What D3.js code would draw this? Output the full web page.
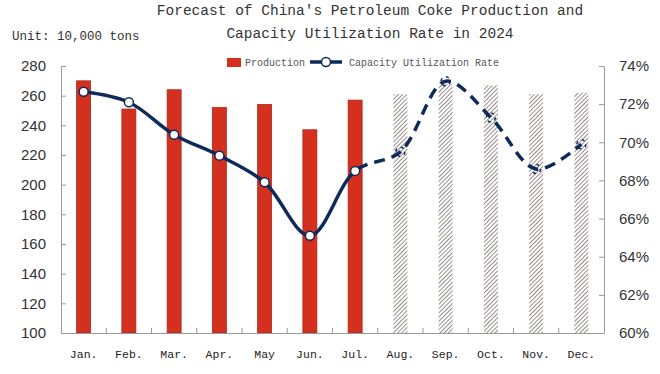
<!DOCTYPE html>
<html>
<head>
<meta charset="utf-8">
<script src="https://cdn.jsdelivr.net/npm/d3@7"></script>
<style>
  body { margin: 0; background: #fff; }
  svg { display: block; }
</style>
</head>
<body>
<svg width="660" height="374"></svg>
<script>
var months = ["Jan.", "Feb.", "Mar.", "Apr.", "May", "Jun.", "Jul.", "Aug.", "Sep.", "Oct.", "Nov.", "Dec."];
var production = [270, 251, 264, 252, 254, 237, 257, 261, 268, 267, 261, 262];
var utilization = [72.65, 72.1, 70.4, 69.3, 67.9, 65.1, 68.5, 69.5, 73.2, 71.3, 68.6, 69.9];
var actualCount = 7; // Jan-Jul actual, Aug-Dec forecast
var leftTicks = [100, 120, 140, 160, 180, 200, 220, 240, 260, 280];
var rightTicks = [60, 62, 64, 66, 68, 70, 72, 74];

var svg = d3.select("svg");
var plotLeft = 61, plotRight = 604, plotTop = 66, plotBottom = 333;

var x = d3.scaleBand().domain(months).range([plotLeft, plotRight]).padding(0);
var y = d3.scaleLinear().domain([100, 280]).range([plotBottom, plotTop]);
var y2 = d3.scaleLinear().domain([60, 74]).range([plotBottom, plotTop]);

function cx(i) { return x(months[i]) + x.bandwidth() / 2; }

var defs = svg.append("defs");
var pat = defs.append("pattern")
    .attr("id", "hatch")
    .attr("patternUnits", "userSpaceOnUse")
    .attr("width", 3).attr("height", 3)
    .attr("patternTransform", "rotate(45)");
pat.append("rect").attr("width", 3).attr("height", 3).attr("fill", "#fff");
pat.append("line")
    .attr("x1", 0).attr("y1", 0).attr("x2", 0).attr("y2", 3)
    .attr("stroke", "#5e4f48").attr("stroke-width", 1.3);

var splitX = cx(actualCount - 1);
defs.append("clipPath").attr("id", "clipSolid")
  .append("rect")
    .attr("x", 0).attr("y", 0)
    .attr("width", splitX)
    .attr("height", 374);
defs.append("clipPath").attr("id", "clipDash")
  .append("rect")
    .attr("x", splitX).attr("y", 0)
    .attr("width", 660).attr("height", 374);

// titles
svg.append("text")
    .attr("x", 370).attr("y", 15)
    .attr("text-anchor", "middle")
    .style("font", "14.5px 'Liberation Mono', monospace")
    .attr("fill", "#333")
    .text("Forecast of China's Petroleum Coke Production and");
svg.append("text")
    .attr("x", 370).attr("y", 38)
    .attr("text-anchor", "middle")
    .style("font", "14.5px 'Liberation Mono', monospace")
    .attr("fill", "#333")
    .text("Capacity Utilization Rate in 2024");
svg.append("text")
    .attr("x", 12).attr("y", 40)
    .style("font", "12.5px 'Liberation Mono', monospace")
    .attr("fill", "#333")
    .text("Unit: 10,000 tons");

// bars
var barW = 14;
svg.selectAll(".bar")
  .data(production)
  .enter().append("rect")
    .attr("class", "bar")
    .attr("x", function(d, i) { return cx(i) - barW / 2; })
    .attr("y", function(d) { return y(d); })
    .attr("width", barW)
    .attr("height", function(d) { return plotBottom - y(d); })
    .attr("fill", function(d, i) { return i < actualCount ? "#d4301f" : "url(#hatch)"; })
    .attr("stroke", function(d, i) { return i < actualCount ? "#b02818" : "none"; })
    .attr("stroke-width", 0.8);

// axes
var gLeft = svg.append("g")
    .attr("transform", "translate(" + plotLeft + ",0)")
    .call(d3.axisLeft(y).tickValues(leftTicks).tickSize(-5).tickSizeOuter(0).tickPadding(15));
var gRight = svg.append("g")
    .attr("transform", "translate(" + plotRight + ",0)")
    .call(d3.axisRight(y2).tickValues(rightTicks).tickSize(-5).tickSizeOuter(0).tickPadding(15)
      .tickFormat(function(d) { return d + "%"; }));
[gLeft, gRight].forEach(function(g) {
  g.select(".domain").attr("stroke", "#999");
  g.selectAll(".tick line").attr("stroke", "#999");
  g.selectAll(".tick text")
    .style("font", "15px 'Liberation Sans', Arial, sans-serif")
    .attr("fill", "#333");
});

var gBottom = svg.append("g")
    .attr("transform", "translate(0," + plotBottom + ")")
    .call(d3.axisBottom(x).tickSize(0).tickPadding(17));
gBottom.select(".domain").attr("stroke", "#999");
gBottom.selectAll(".tick text")
    .style("font", "11.5px 'Liberation Mono', monospace")
    .attr("fill", "#222");
// tick marks between categories
gBottom.selectAll(".sep")
  .data(months.slice(1))
  .enter().append("line")
    .attr("x1", function(d) { return x(d); })
    .attr("x2", function(d) { return x(d); })
    .attr("y1", 0).attr("y2", -5)
    .attr("stroke", "#999");

// line
var line = d3.line()
    .x(function(d, i) { return cx(i); })
    .y(function(d) { return y2(d); })
    .curve(d3.curveCatmullRom.alpha(0.5));

svg.append("path")
    .datum(utilization)
    .attr("d", line)
    .attr("clip-path", "url(#clipSolid)")
    .attr("fill", "none")
    .attr("stroke", "#0e2a5c")
    .attr("stroke-width", 3.5);
svg.append("path")
    .datum(utilization)
    .attr("d", line)
    .attr("clip-path", "url(#clipDash)")
    .attr("fill", "none")
    .attr("stroke", "#0e2a5c")
    .attr("stroke-width", 3.5)
    .attr("stroke-dasharray", "11,7");

svg.selectAll(".dot")
  .data(utilization)
  .enter().append("circle")
    .attr("class", "dot")
    .attr("cx", function(d, i) { return cx(i); })
    .attr("cy", function(d) { return y2(d); })
    .attr("r", 4.5)
    .attr("fill", function(d, i) { return i < actualCount ? "#fff" : "none"; })
    .attr("stroke", "#0e2a5c")
    .attr("stroke-width", 1.5)
    .attr("stroke-dasharray", function(d, i) { return i < actualCount ? null : "3,4"; });

// legend
var lg = svg.append("g");
lg.append("rect")
    .attr("x", 227).attr("y", 58).attr("width", 14).attr("height", 9)
    .attr("fill", "#d4301f");
lg.append("text")
    .attr("x", 245).attr("y", 65.5)
    .style("font", "10px 'Liberation Mono', monospace")
    .attr("fill", "#555")
    .text("Production");
lg.append("line")
    .attr("x1", 310).attr("x2", 342).attr("y1", 62).attr("y2", 62)
    .attr("stroke", "#0e2a5c").attr("stroke-width", 3.5);
lg.append("circle")
    .attr("cx", 326).attr("cy", 62).attr("r", 4.5)
    .attr("fill", "#fff").attr("stroke", "#0e2a5c").attr("stroke-width", 1.5);
lg.append("text")
    .attr("x", 349).attr("y", 65.5)
    .style("font", "10px 'Liberation Mono', monospace")
    .attr("fill", "#555")
    .text("Capacity Utilization Rate");
</script>
</body>
</html>
